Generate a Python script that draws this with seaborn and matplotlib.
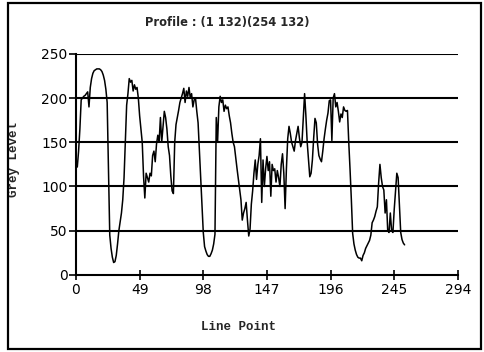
import numpy as np
import pandas as pd
import matplotlib
matplotlib.use("Agg")
import matplotlib.pyplot as plt
from matplotlib.patches import Rectangle
import seaborn as sns

# Grey level sampled along the line (1,132) -> (254,132)
grey_level = [
    128, 122, 140, 165, 198, 200, 202, 203, 205, 207,
    190, 212, 222, 228, 231, 232, 233, 233, 233, 232,
    230, 226, 220, 210, 195, 120, 45, 30, 20, 14,
    15, 22, 35, 50, 60, 70, 85, 110, 150, 192,
    205, 222, 218, 220, 208, 215, 210, 212, 200, 180,
    165, 150, 112, 87, 115, 110, 105, 115, 112, 135,
    140, 128, 148, 158, 150, 178, 150, 168, 185, 178,
    165, 145, 135, 112, 95, 92, 150, 170, 178, 186,
    195, 200, 205, 211, 195, 208, 202, 212, 200, 205,
    190, 198, 200, 185, 172, 140, 110, 80, 48, 32,
    27, 23, 21, 21, 24, 28, 35, 46, 178, 150,
    190, 202, 195, 198, 185, 192, 188, 190, 180, 172,
    160, 150, 145, 132, 120, 108, 95, 85, 62, 70,
    75, 82, 62, 44, 52, 80, 95, 115, 130, 108,
    125, 135, 154, 82, 130, 100, 120, 134, 118, 128,
    89, 125, 118, 120, 105, 118, 110, 100, 125, 137,
    115, 75, 120, 154, 168, 160, 150, 145, 140, 152,
    160, 168, 155, 145, 150, 178, 205, 180, 150, 130,
    111, 115, 130, 155, 177, 172, 148, 135, 131, 128,
    140, 154, 165, 175, 183, 197, 198, 152, 200, 205,
    190, 195, 185, 173, 182, 178, 190, 186, 185, 186,
    150, 119, 85, 47, 35, 28, 23, 20, 19, 19,
    16, 22, 25, 30, 33, 36, 39, 45, 59, 62,
    66, 72, 77, 104, 125, 110, 100, 96, 70, 85,
    50, 48, 70, 50, 48, 74, 95, 115, 110, 80,
    48, 40, 36, 34,
]
line_point = list(range(len(grey_level)))

x_ticks = [0, 49, 98, 147, 196, 245, 294]
y_ticks = [0, 50, 100, 150, 200, 250]

df = pd.DataFrame({"Line Point": line_point, "Grey Level": grey_level})

sns.set_style("white")
plt.rcParams["font.family"] = ["DejaVu Sans"]

fig = plt.figure(figsize=(4.84, 3.52), dpi=100)
ax = fig.add_axes([0.157, 0.219, 0.789, 0.628])

sns.lineplot(data=df, x="Line Point", y="Grey Level", ax=ax,
             color="black", linewidth=1.1, zorder=3)

for v in y_ticks[1:]:
    ax.axhline(v, color="black", linewidth=1.5, zorder=2)

ax.set_xlim(0, 294)
ax.set_ylim(0, 250)
ax.set_xticks(x_ticks)
ax.set_yticks(y_ticks)
ax.set_xticklabels([str(t) for t in x_ticks], fontsize=10)
ax.set_yticklabels([str(t) for t in y_ticks], fontsize=10)
ax.tick_params(axis="x", direction="inout", length=7, width=1.2, pad=2, colors="black")
ax.tick_params(axis="y", direction="out", length=5, width=1.2, pad=1, colors="black")
ax.tick_params(left=True, bottom=True)

for side in ("top", "right"):
    ax.spines[side].set_visible(False)
for side in ("left", "bottom"):
    ax.spines[side].set_color("black")
    ax.spines[side].set_linewidth(1.5)

ax.set_xlabel("Line Point", fontsize=9, fontweight="bold", family="Liberation Mono")
ax.set_ylabel("Grey Level", fontsize=9, fontweight="bold", family="Liberation Mono")
ax.xaxis.set_label_coords(0.425, -0.208)
ax.yaxis.set_label_coords(-0.147, 0.52)

fig.text(0.469, 0.937, "Profile : (1 132)(254 132)", ha="center", va="center",
         fontsize=8.3, fontweight="bold", family="DejaVu Sans")

# frame around the whole figure
fig.patches.append(Rectangle((8 / 484, 3 / 352), 473 / 484, 346 / 352,
                             transform=fig.transFigure, fill=False,
                             edgecolor="black", linewidth=1.6))

fig.savefig("out.png", dpi=100, facecolor="white")
